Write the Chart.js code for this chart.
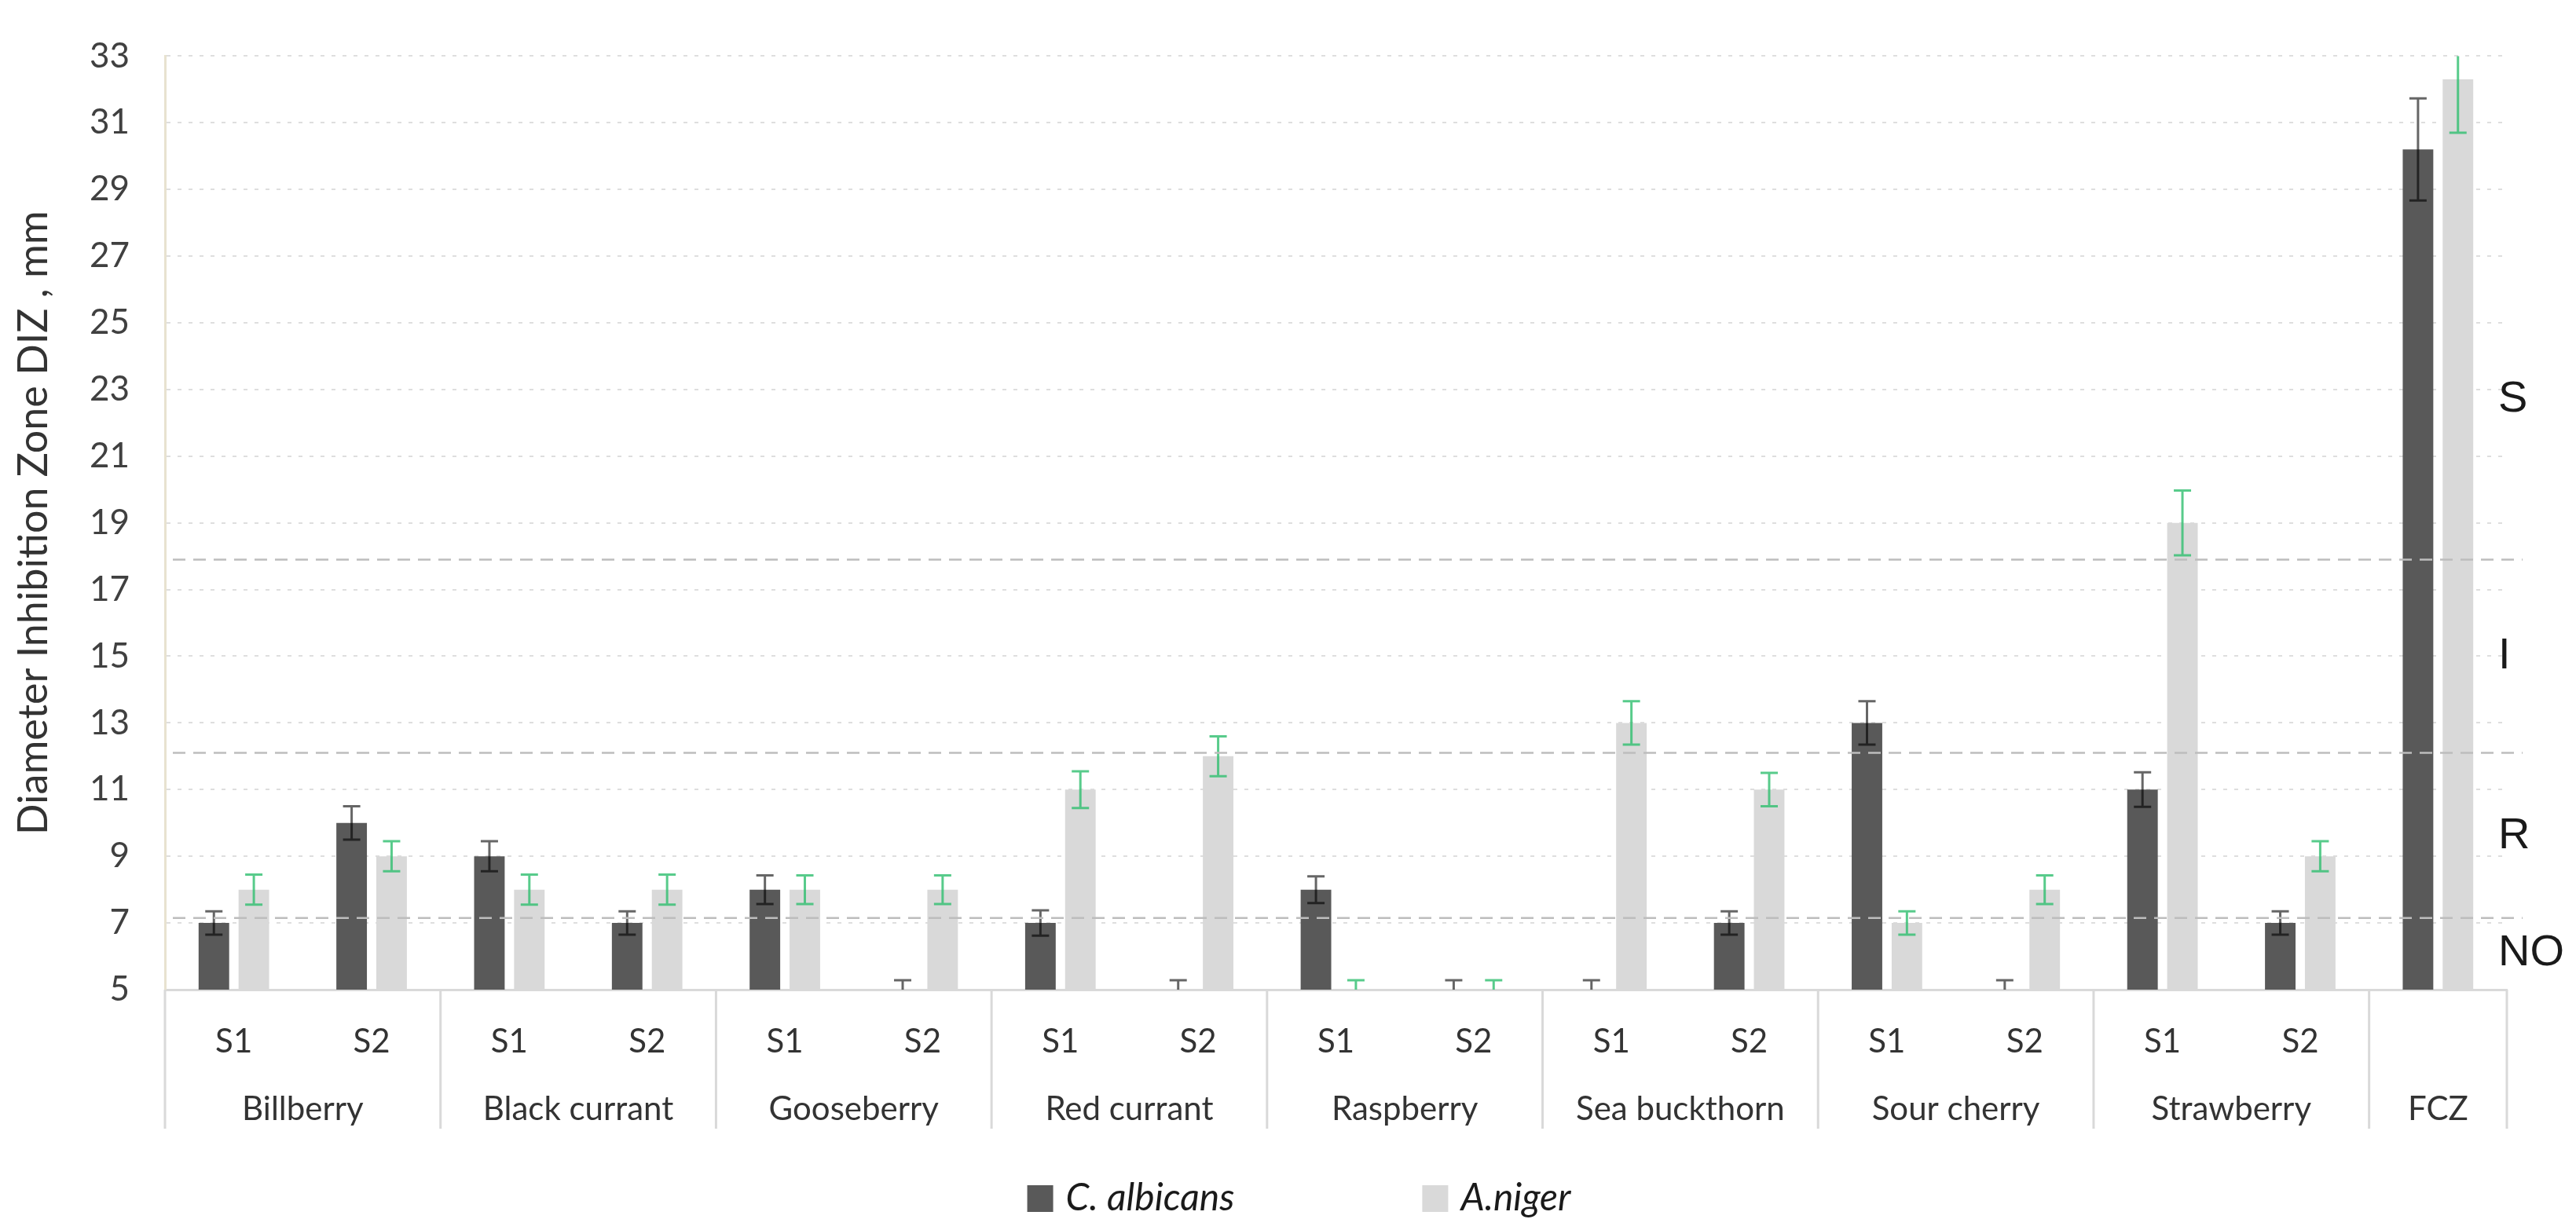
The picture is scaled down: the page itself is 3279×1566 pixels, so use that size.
<!DOCTYPE html>
<html>
<head>
<meta charset="utf-8">
<script src="https://cdn.jsdelivr.net/npm/chart.js@4.4.1/dist/chart.umd.min.js"></script>
<style>
  html, body { margin: 0; padding: 0; background: #fff; }
  #wrap { width: 3279px; height: 1566px; position: relative; }
</style>
</head>
<body>
<div id="wrap"><canvas id="chart"></canvas></div>
<script>
// sub-categories along the x axis (FCZ has no sample label)
const subLabels = ['S1', 'S2', 'S1', 'S2', 'S1', 'S2', 'S1', 'S2', 'S1', 'S2', 'S1', 'S2', 'S1', 'S2', 'S1', 'S2', ''];
const groupNames = ['Billberry', 'Black currant', 'Gooseberry', 'Red currant', 'Raspberry', 'Sea buckthorn', 'Sour cherry', 'Strawberry', 'FCZ'];
const groupSpans = [2, 2, 2, 2, 2, 2, 2, 2, 1];

// diameter of inhibition zone, mm (5 = no zone)
const albicans    = [7, 10, 9, 7, 8, 5, 7, 5, 8, 5, 5, 7, 13, 5, 11, 7, 30.2];
const albicansErr = [0.35, 0.5, 0.45, 0.35, 0.43, 0.28, 0.38, 0.28, 0.4, 0.28, 0.28, 0.35, 0.65, 0.28, 0.52, 0.35, 1.53];
const niger       = [8, 9, 8, 8, 8, 8, 11, 12, 5, 5, 13, 11, 7, 8, 19, 9, 32.3];
const nigerErr    = [0.45, 0.45, 0.45, 0.45, 0.43, 0.43, 0.55, 0.6, 0.28, 0.28, 0.65, 0.5, 0.35, 0.43, 0.97, 0.45, 1.6];

// sensitivity limits and zone names on the right
const thresholds = [7.15, 12.1, 17.9];
const zoneNames = ['NO', 'R', 'I', 'S'];
const zoneAt = [6.1, 9.6, 15, 22.7];

const legendNames = ['C. albicans', 'A.niger'];
const darkColor = '#595959';
const lightColor = '#d9d9d9';

Chart.defaults.font.family = 'Lato, "Open Sans", sans-serif';

const extras = {
  id: 'extras',
  afterDatasetsDraw(chart) {
    const { ctx, chartArea: a, scales: { y } } = chart;

    // error bars
    ctx.save();
    ctx.beginPath();
    ctx.rect(a.left, a.top, a.right - a.left, a.bottom - a.top);
    ctx.clip();
    const sets = [[0, albicansErr, 'rgba(0,0,0,0.6)'], [1, nigerErr, 'rgba(46,190,110,0.8)']];
    sets.forEach(([di, errs, col]) => {
      const meta = chart.getDatasetMeta(di);
      const vals = chart.data.datasets[di].data;
      ctx.strokeStyle = col;
      ctx.lineWidth = 3;
      meta.data.forEach((bar, i) => {
        const t = y.getPixelForValue(vals[i] + errs[i]);
        const b = y.getPixelForValue(vals[i] - errs[i]);
        ctx.beginPath();
        ctx.moveTo(bar.x, t); ctx.lineTo(bar.x, b);
        ctx.moveTo(bar.x - 11, t); ctx.lineTo(bar.x + 11, t);
        ctx.moveTo(bar.x - 11, b); ctx.lineTo(bar.x + 11, b);
        ctx.stroke();
      });
    });
    ctx.restore();

    // threshold lines
    ctx.save();
    ctx.strokeStyle = '#bdbdbd';
    ctx.lineWidth = 2.5;
    ctx.setLineDash([16, 10]);
    thresholds.forEach(v => {
      const py = y.getPixelForValue(v);
      ctx.beginPath();
      ctx.moveTo(a.left + 10, py);
      ctx.lineTo(a.right + 20, py);
      ctx.stroke();
    });
    ctx.restore();
  },
  afterDraw(chart) {
    const { ctx, chartArea: a, scales: { x, y } } = chart;
    ctx.save();

    // zone labels
    ctx.fillStyle = '#1a1a1a';
    ctx.font = '56px "Liberation Sans"';
    ctx.textAlign = 'left';
    ctx.textBaseline = 'middle';
    zoneNames.forEach((n, i) => ctx.fillText(n, a.right - 11, y.getPixelForValue(zoneAt[i])));

    // group separators and names under the axis
    const half = (x.getPixelForValue(1) - x.getPixelForValue(0)) / 2;
    ctx.strokeStyle = '#d9d9d9';
    ctx.lineWidth = 3;
    ctx.fillStyle = '#333';
    ctx.font = '42px Lato';
    ctx.textAlign = 'center';
    ctx.beginPath();
    ctx.moveTo(a.left, a.bottom);
    ctx.lineTo(a.left, a.bottom + 177);
    ctx.stroke();
    let slot = 0;
    groupNames.forEach((name, g) => {
      const first = x.getPixelForValue(slot) - half;
      const last = x.getPixelForValue(slot + groupSpans[g] - 1) + half;
      ctx.beginPath();
      ctx.moveTo(last, a.bottom);
      ctx.lineTo(last, a.bottom + 177);
      ctx.stroke();
      ctx.fillText(name, (first + last) / 2, a.bottom + 152);
      slot += groupSpans[g];
    });

    // legend
    ctx.font = 'italic 48px Lato';
    const box = 33, gapText = 16, gapItem = 239;
    const widths = legendNames.map(n => ctx.measureText(n).width);
    const total = widths.reduce((s, w) => s + box + gapText + w, 0) + gapItem;
    let lx = chart.width / 2 + 14 - total / 2;
    const ly = 1526;
    ctx.textAlign = 'left';
    ctx.fillStyle = '#1a1a1a';
    legendNames.forEach((n, i) => {
      ctx.fillStyle = i === 0 ? darkColor : lightColor;
      ctx.fillRect(lx, ly - 17, box, 34);
      ctx.fillStyle = '#1a1a1a';
      ctx.fillText(n, lx + box + gapText, ly);
      lx += box + gapText + widths[i] + gapItem;
    });
    ctx.restore();
  }
};

new Chart(document.getElementById('chart'), {
  type: 'bar',
  data: {
    labels: subLabels,
    datasets: [
      { label: legendNames[0], data: albicans, backgroundColor: darkColor },
      { label: legendNames[1], data: niger, backgroundColor: lightColor }
    ]
  },
  options: {
    responsive: true,
    maintainAspectRatio: false,
    devicePixelRatio: 1,
    animation: false,
    categoryPercentage: 0.58,
    barPercentage: 0.765,
    layout: { padding: { top: 52, right: 88, bottom: 0, left: 0 } },
    plugins: {
      legend: { display: false },
      tooltip: { enabled: false }
    },
    scales: {
      x: {
        grid: { display: false },
        border: { display: true, color: '#d9d9d9', width: 3 },
        ticks: {
          color: '#333',
          font: { size: 42 },
          padding: 33,
          autoSkip: false,
          maxRotation: 0
        },
        afterFit(scale) { scale.height = 306; }
      },
      y: {
        min: 5,
        max: 33,
        grid: { color: '#dedede', lineWidth: 2, drawTicks: false },
        border: { display: true, color: '#e8e2d0', width: 3, dash: [5, 9] },
        ticks: {
          stepSize: 2,
          color: '#404040',
          font: { size: 44 },
          padding: 45
        },
        title: {
          display: true,
          text: 'Diameter Inhibition Zone DIZ , mm',
          color: '#333',
          font: { size: 52 },
          padding: { top: 12, bottom: 0 }
        },
        afterFit(scale) { scale.width = 210; }
      }
    }
  },
  plugins: [extras]
});
</script>
</body>
</html>
